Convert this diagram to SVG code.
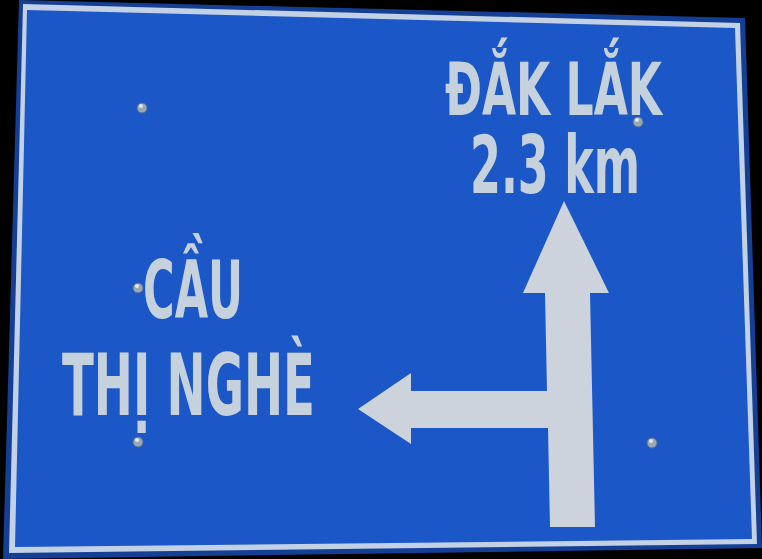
<svg xmlns="http://www.w3.org/2000/svg" width="762" height="559" viewBox="0 0 762 559">
<style>
.sign-text{font-family:"DejaVu Sans","Liberation Sans",sans-serif;font-weight:bold;fill:#c6d1de}
.bolt{fill:#9aa9b8;stroke:#56708f;stroke-width:1}
.bolt-hi{fill:#dfe6ee}
</style>
<rect x="0" y="0" width="762" height="559" fill="#000"/>
<g id="sign">
<polygon points="19,0 745,18 762,548 3,559" fill="#153f95"/>
<polygon points="23,4 740,23 757,544 9,553" fill="#c3d1e6"/>
<polygon points="27,10 735,28 752,539 15,547" fill="#1c57c7"/>
</g>
<g id="bolts">
<circle class="bolt" cx="142" cy="108" r="5"/><circle class="bolt-hi" cx="141" cy="106" r="2"/>
<circle class="bolt" cx="638" cy="122" r="5"/><circle class="bolt-hi" cx="637" cy="120" r="2"/>
<circle class="bolt" cx="138" cy="288" r="5"/><circle class="bolt-hi" cx="137" cy="286" r="2"/>
<circle class="bolt" cx="138" cy="442" r="5"/><circle class="bolt-hi" cx="137" cy="440" r="2"/>
<circle class="bolt" cx="652" cy="443" r="5"/><circle class="bolt-hi" cx="651" cy="441" r="2"/>
</g>
<g id="dak-lak">
<text class="sign-text" x="445" y="115" font-size="73" textLength="217" lengthAdjust="spacingAndGlyphs">ĐẮK LẮK</text>
<text class="sign-text" x="470" y="193" font-size="80" textLength="170" lengthAdjust="spacingAndGlyphs">2.3 km</text>
</g>
<g id="cau-thi-nghe">
<text class="sign-text" x="143" y="318" font-size="81" textLength="100" lengthAdjust="spacingAndGlyphs">CẦU</text>
<text class="sign-text" x="62" y="415" font-size="86" textLength="253" lengthAdjust="spacingAndGlyphs">THỊ NGHÈ</text>
</g>
<g id="arrows">
<polygon fill="#ccd3dc" points="564,201 609,293 590,293 595,527 550,527 548,428 411,428 411,444 358,409 411,373 411,391 547,391 545,293 523,293"/>
</g>
</svg>
